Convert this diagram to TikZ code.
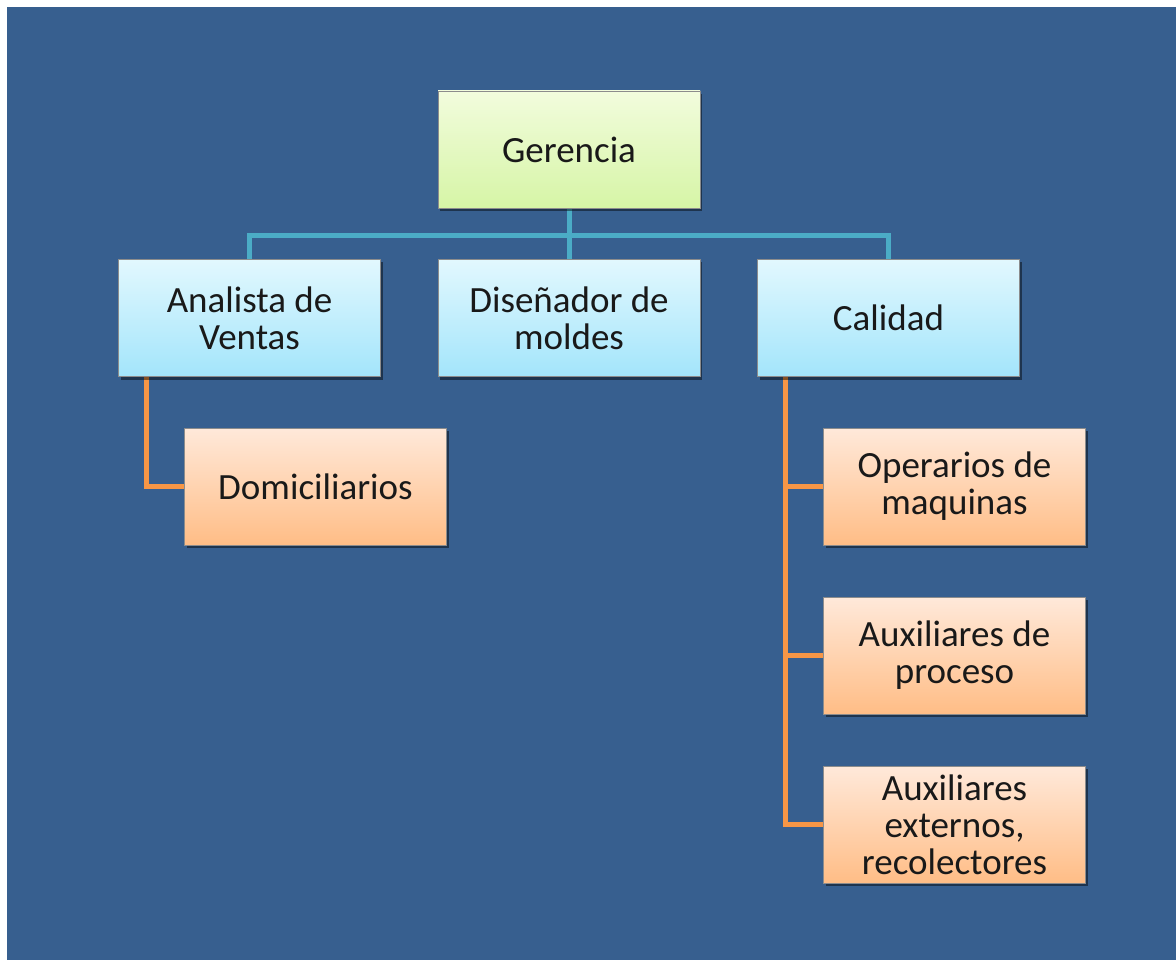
\documentclass[tikz,border=0pt]{standalone}
\usepackage{fontspec}
\setmainfont{Carlito}
\usetikzlibrary{shadows,calc}
\pgfdeclarelayer{lines}
\pgfsetlayers{lines,main}
\definecolor{bgblue}{HTML}{375F8F}
\definecolor{tealline}{HTML}{4BACC6}
\definecolor{orangeline}{HTML}{F79646}
\definecolor{gtop}{HTML}{F2FCDD}
\definecolor{gbot}{HTML}{D6F5A6}
\definecolor{btop}{HTML}{E2F8FE}
\definecolor{bbot}{HTML}{A3E5FB}
\definecolor{otop}{HTML}{FFE9DA}
\definecolor{obot}{HTML}{FFBD86}
\tikzset{
  box/.style={draw=black!45, line width=0.8pt, minimum width=262pt, minimum height=117pt,
    inner sep=0pt, align=center, text=black!90,
    font=\fontsize{37}{37}\selectfont,
    drop shadow={shadow xshift=2pt, shadow yshift=-3pt, opacity=0.45, fill=black}},
  gbox/.style={box, top color=gtop, bottom color=gbot},
  bbox/.style={box, top color=btop, bottom color=bbot},
  obox/.style={box, top color=otop, bottom color=obot},
  tline/.style={draw=tealline, line width=5pt},
  oline/.style={draw=orangeline, line width=5pt},
}
\begin{document}
\begin{tikzpicture}[x=1pt,y=-1pt]
\useasboundingbox (0,0) rectangle (1176,960);
\begin{pgfonlayer}{lines}
\fill[white] (0,0) rectangle (1176,960);
\fill[bgblue] (7,7) rectangle (1176,960);
\end{pgfonlayer}

\coordinate (bus) at (569,236);
\node[gbox] (ger) at (569,149.5) {Gerencia};
\node[bbox] (ana) at (249.5,318) {Analista de\\Ventas};
\node[bbox] (dis) at (569,318) {Diseñador de\\moldes};
\node[bbox] (cal) at (888.5,318) {Calidad};
\node[obox] (dom) at (315.5,486.5) {Domiciliarios};
\node[obox] (ope) at (954.5,486.5) {Operarios de\\maquinas};
\node[obox] (pro) at (954.5,655.5) {Auxiliares de\\proceso};
\node[obox] (ext) at (954.5,824.5) {Auxiliares\\externos,\\recolectores};

\coordinate (al) at ($(ana.south west)+(28,0)$);
\coordinate (cl) at ($(cal.south west)+(28,0)$);
\begin{pgfonlayer}{lines}
\draw[tline] (ger.south) -- (bus);
\draw[tline] (dis.north) -- (bus);
\draw[tline] (ana.north) |- (bus) -| (cal.north);
\draw[oline] (al) |- (dom.west);
\draw[oline] (cl) |- (ext.west);
\draw[oline] (ope.west) -- (ope.west -| cl);
\draw[oline] (pro.west) -- (pro.west -| cl);
\end{pgfonlayer}
\end{tikzpicture}
\end{document}
